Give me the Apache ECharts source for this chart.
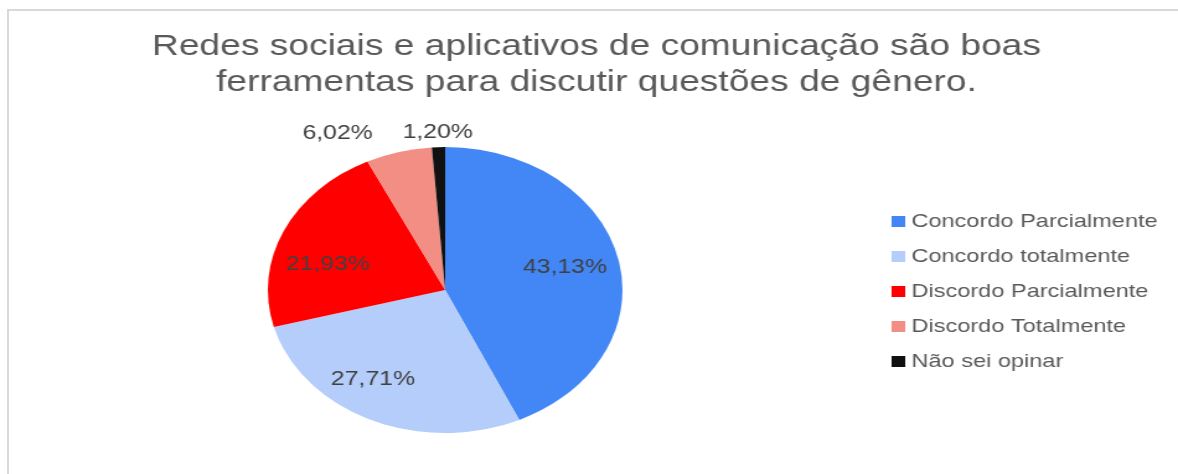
<!DOCTYPE html>
<html>
<head>
<meta charset="utf-8">
<script src="https://cdn.jsdelivr.net/npm/echarts@6/dist/echarts.min.js"></script>
<style>
  html, body { margin: 0; padding: 0; background: #fff; overflow: hidden; }
  #frame {
    position: absolute; left: 7px; top: 9px; width: 1200px; height: 500px;
    border-top: 2px solid #d9d9d9; border-left: 2px solid #d9d9d9;
  }
  /* the reference is stretched sideways, so draw narrow and scale up */
  #main {
    position: absolute; left: 0; top: 0; width: 950px; height: 474px;
    transform: scaleX(1.24); transform-origin: 0 0;
  }
</style>
</head>
<body>
<div id="frame"></div>
<div id="main"></div>
<script>
const categories = ['Concordo Parcialmente', 'Concordo totalmente', 'Discordo Parcialmente', 'Discordo Totalmente', 'Não sei opinar']
const values = [43.13, 27.71, 21.93, 6.02, 1.20]
const colors = ['#4287f5', '#b4cdfa', '#ff0000', '#f28e84', '#111111']
// where each percentage sits: 'mid' inside the slice, 'side' outside, 'top' far out
const labelSpot = ['mid', 'mid', 'mid', 'side', 'top']

const chart = echarts.init(document.getElementById('main'))

const pct = p => p.value.toFixed(2).replace('.', ',') + '%'
const labelFont = { fontFamily: 'Liberation Sans', fontSize: 20, color: '#404040', formatter: pct }
const center = [359, 290]

// small nudges so the inside labels land where Excel put them
function nudge(i) {
  if (i === 0) return [-5, 0]
  if (i === 1) return [-14, -5]
  if (i === 2) return [0, 18]
  return [0, 0]
}

// visible pie, carries the outside label of the pink slice
const mainData = categories.map((name, i) => ({
  name: name,
  value: values[i],
  itemStyle: { color: colors[i] },
  label: { show: labelSpot[i] === 'side' }
}))

// transparent helper pies, only there to put the other labels further out
const ghost = spot => categories.map((name, i) => ({
  name: name,
  value: values[i],
  itemStyle: { color: 'rgba(0,0,0,0)' },
  label: { show: labelSpot[i] === spot, offset: nudge(i) }
}))

chart.setOption({
  animation: false,
  title: {
    text: 'Redes sociais e aplicativos de comunicação são boas\nferramentas para discutir questões de gênero.',
    left: 476,
    top: 24,
    textAlign: 'center',
    textStyle: {
      fontFamily: 'Liberation Sans',
      fontSize: 30,
      fontWeight: 'normal',
      color: '#595959',
      lineHeight: 36
    }
  },
  legend: {
    orient: 'vertical',
    left: 714,
    top: 207,
    itemWidth: 11,
    itemHeight: 11,
    itemGap: 16,
    icon: 'rect',
    textStyle: { fontFamily: 'Liberation Sans', fontSize: 19, color: '#595959' },
    data: categories
  },
  series: [{
    type: 'pie',
    center: center,
    radius: 143,
    startAngle: 90,
    clockwise: true,
    avoidLabelOverlap: false,
    label: Object.assign({ position: 'outside', distance: 2 }, labelFont),
    labelLine: { show: false, length: 19, length2: 11 },
    emphasis: { disabled: true },
    data: mainData
  }, {
    type: 'pie',
    center: center,
    radius: 202,
    startAngle: 90,
    silent: true,
    avoidLabelOverlap: false,
    label: Object.assign({ position: 'inside' }, labelFont),
    labelLine: { show: false },
    emphasis: { disabled: true },
    data: ghost('mid')
  }, {
    type: 'pie',
    center: center,
    radius: 310,
    startAngle: 90,
    silent: true,
    avoidLabelOverlap: false,
    label: Object.assign({ position: 'inside' }, labelFont),
    labelLine: { show: false },
    emphasis: { disabled: true },
    data: ghost('top')
  }]
})
</script>
</body>
</html>
